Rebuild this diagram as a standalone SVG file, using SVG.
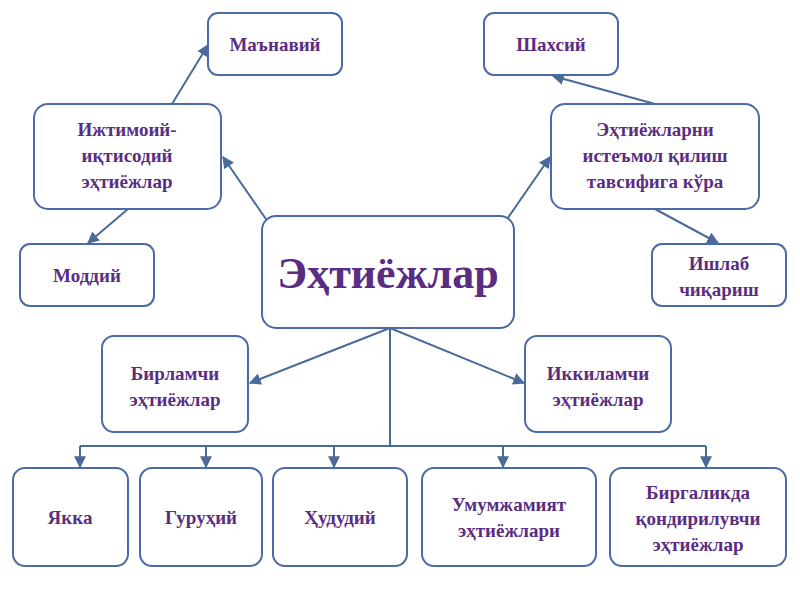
<svg xmlns="http://www.w3.org/2000/svg" width="800" height="600" viewBox="0 0 800 600">
<style>
.b{fill:#fff;stroke:#4a6aa8;stroke-width:2}
.t{font-family:"Liberation Serif",serif;font-weight:bold;fill:#5a2d82;font-size:19px;text-anchor:middle}
.c{stroke:#4a6a9a;stroke-width:2;fill:none}
</style>
<defs><marker id="a" viewBox="0 0 10 10" refX="9" refY="5" markerWidth="6" markerHeight="6" orient="auto-start-reverse"><path d="M0,0L10,5L0,10z" fill="#4a6a9a"/></marker></defs>
<rect width="800" height="600" fill="#fff"/>
<g id="connectors">
<line class="c" x1="268" y1="222" x2="223" y2="157" marker-end="url(#a)"/>
<line class="c" x1="172" y1="104" x2="208" y2="45" marker-end="url(#a)"/>
<line class="c" x1="128" y1="209" x2="88" y2="243" marker-end="url(#a)"/>
<line class="c" x1="505" y1="222" x2="550" y2="157" marker-end="url(#a)"/>
<line class="c" x1="655" y1="104" x2="553" y2="76" marker-end="url(#a)"/>
<line class="c" x1="655" y1="209" x2="718" y2="243" marker-end="url(#a)"/>
<line class="c" x1="390" y1="328" x2="250" y2="383" marker-end="url(#a)"/>
<line class="c" x1="390" y1="328" x2="524" y2="383" marker-end="url(#a)"/>
<path class="c" d="M390,328V446M80,446H706"/>
<line class="c" x1="80" y1="446" x2="80" y2="467" marker-end="url(#a)"/>
<line class="c" x1="206" y1="446" x2="206" y2="467" marker-end="url(#a)"/>
<line class="c" x1="334" y1="446" x2="334" y2="467" marker-end="url(#a)"/>
<line class="c" x1="503" y1="446" x2="503" y2="467" marker-end="url(#a)"/>
<line class="c" x1="706" y1="446" x2="706" y2="467" marker-end="url(#a)"/>
</g>
<g id="center"><rect class="b" x="262" y="216" width="252" height="112" rx="14"/><text class="t" x="388" y="288" style="font-size:44px">Эҳтиёжлар</text></g>
<g id="manaviy"><rect class="b" x="208" y="13" width="134" height="62" rx="10"/><text class="t" x="275" y="51">Маънавий</text></g>
<g id="ijtimoiy"><rect class="b" x="34" y="104" width="187" height="105" rx="14"/><text class="t" x="127" y="136">Ижтимоий-</text><text class="t" x="127" y="162">иқтисодий</text><text class="t" x="127" y="188">эҳтиёжлар</text></g>
<g id="moddiy"><rect class="b" x="20" y="244" width="134" height="62" rx="10"/><text class="t" x="87" y="282">Моддий</text></g>
<g id="shaxsiy"><rect class="b" x="484" y="13" width="134" height="62" rx="10"/><text class="t" x="551" y="51">Шахсий</text></g>
<g id="istemol"><rect class="b" x="551" y="104" width="208" height="105" rx="14"/><text class="t" x="655" y="136">Эҳтиёжларни</text><text class="t" x="655" y="162">истеъмол қилиш</text><text class="t" x="655" y="188">тавсифига кўра</text></g>
<g id="ishlab"><rect class="b" x="652" y="244" width="134" height="62" rx="10"/><text class="t" x="719" y="270">Ишлаб</text><text class="t" x="719" y="296">чиқариш</text></g>
<g id="birlamchi"><rect class="b" x="102" y="336" width="146" height="96" rx="12"/><text class="t" x="175" y="380">Бирламчи</text><text class="t" x="175" y="406">эҳтиёжлар</text></g>
<g id="ikkilamchi"><rect class="b" x="525" y="336" width="146" height="96" rx="12"/><text class="t" x="598" y="380">Иккиламчи</text><text class="t" x="598" y="406">эҳтиёжлар</text></g>
<g id="yakka"><rect class="b" x="13" y="468" width="115" height="98" rx="12"/><text class="t" x="70" y="524">Якка</text></g>
<g id="guruhiy"><rect class="b" x="140" y="468" width="122" height="98" rx="12"/><text class="t" x="201" y="524">Гуруҳий</text></g>
<g id="hududiy"><rect class="b" x="273" y="468" width="134" height="98" rx="12"/><text class="t" x="340" y="524">Ҳудудий</text></g>
<g id="umum"><rect class="b" x="422" y="468" width="174" height="98" rx="12"/><text class="t" x="509" y="511">Умумжамият</text><text class="t" x="509" y="537">эҳтиёжлари</text></g>
<g id="birga"><rect class="b" x="610" y="468" width="176" height="98" rx="12"/><text class="t" x="698" y="499">Биргаликда</text><text class="t" x="698" y="525">қондирилувчи</text><text class="t" x="698" y="551">эҳтиёжлар</text></g>
</svg>
